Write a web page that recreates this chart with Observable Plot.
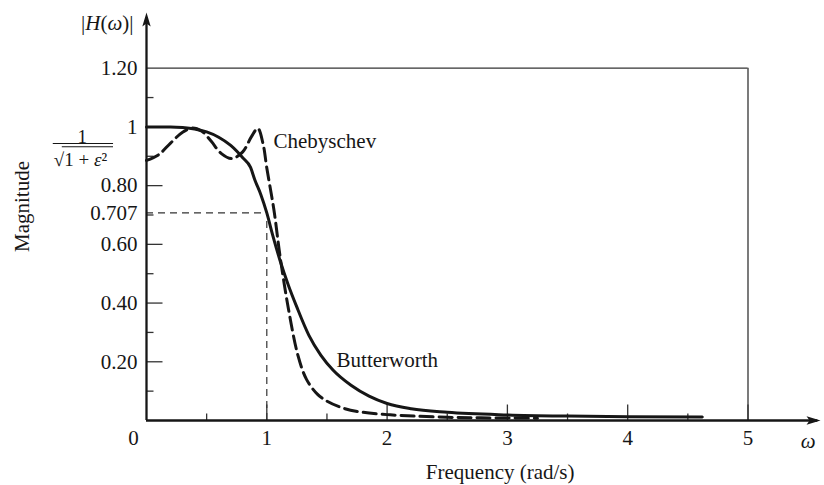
<!DOCTYPE html>
<html>
<head>
<meta charset="utf-8">
<script src="https://cdn.jsdelivr.net/npm/d3@7"></script>
<script src="https://cdn.jsdelivr.net/npm/@observablehq/plot@0.6"></script>
<style>
  html, body { margin: 0; padding: 0; background: #fff; }
  #chart svg { display: block; }
</style>
</head>
<body>
<div id="chart"></div>
<script>
// ---- Data ----
const butterworthW = [0, 0.2, 0.3, 0.4, 0.5, 0.6, 0.7, 0.8, 0.865, 0.9, 0.95, 1.0, 1.05, 1.11, 1.18, 1.25, 1.35, 1.45, 1.55, 1.7, 1.85, 2.0, 2.2, 2.5, 3.0, 3.5, 4.0, 4.62];
const butterworthM = [1.0, 1.0, 0.998, 0.993, 0.983, 0.965, 0.937, 0.895, 0.862, 0.82, 0.77, 0.707, 0.63, 0.545, 0.46, 0.386, 0.29, 0.222, 0.172, 0.12, 0.083, 0.058, 0.04, 0.028, 0.019, 0.015, 0.013, 0.012];

const chebyshevW = [0, 0.1, 0.2, 0.3, 0.38, 0.46, 0.54, 0.62, 0.71, 0.8, 0.87, 0.925, 0.97, 1.0, 1.06, 1.11, 1.18, 1.26, 1.33, 1.42, 1.5, 1.65, 1.8, 2.0, 2.22, 2.5, 2.78, 3.25];
const chebyshevM = [0.886, 0.905, 0.945, 0.982, 0.996, 0.985, 0.95, 0.91, 0.892, 0.915, 0.965, 0.995, 0.94, 0.86, 0.715, 0.56, 0.38, 0.22, 0.14, 0.09, 0.066, 0.04, 0.028, 0.02, 0.015, 0.011, 0.009, 0.008];

const xMajorTicks = [1, 2, 3, 4, 5];
const xMinorTicks = [0.5, 1.5, 2.5, 3.5, 4.5];
const yMajorTicks = [0.2, 0.4, 0.6, 0.8, 1.0];
const yMinorTicks = [0.1, 0.3, 0.5, 0.7, 0.9, 1.1];
const yTickValues = [0.2, 0.4, 0.6, 0.8, 1.0, 1.2, 0.707];
const yTickLabels = ["0.20", "0.40", "0.60", "0.80", "1", "1.20", "0.707"];
const cutoffFreq = 1;
const halfPower = 0.707;
const boxTop = 1.2;
const boxRight = 5;

// ---- Tables built from the arrays ----
const butter = butterworthW.map((w, i) => ({w, m: butterworthM[i]}));
const cheb = chebyshevW.map((w, i) => ({w, m: chebyshevM[i]}));
const yLabels = yTickValues.map((v, i) => ({v, t: yTickLabels[i]}));

// ---- Custom symbols (ticks and arrowheads) ----
const tickRight = len => ({draw(ctx) { ctx.moveTo(0, 0); ctx.lineTo(len, 0); }});
const tickUp = len => ({draw(ctx) { ctx.moveTo(0, 0); ctx.lineTo(0, -len); }});
const arrowUp = {draw(ctx) { ctx.moveTo(0, 0); ctx.lineTo(-4.2, 14); ctx.lineTo(0, 11); ctx.lineTo(4.2, 14); ctx.closePath(); }};
const arrowRight = {draw(ctx) { ctx.moveTo(0, 0); ctx.lineTo(-14, -4.2); ctx.lineTo(-11, 0); ctx.lineTo(-14, 4.2); ctx.closePath(); }};

const ink = "#161616";
const serif = "'Liberation Serif', 'DejaVu Serif', serif";

const chart = Plot.plot({
  width: 824,
  height: 485,
  marginLeft: 0, marginRight: 0, marginTop: 0, marginBottom: 0,
  x: {domain: [0, 5], range: [146, 747.5], axis: null},
  y: {domain: [0, 1.2], range: [420, 67.7], axis: null},
  style: {fontFamily: serif, fontSize: "21px", color: ink, background: "#fff", overflow: "visible"},
  marks: [
    // frame (top and right)
    Plot.ruleY([boxTop], {x1: 0, x2: boxRight, stroke: "#333", strokeWidth: 1.3}),
    Plot.ruleX([boxRight], {y1: 0, y2: boxTop, stroke: "#333", strokeWidth: 1.3}),
    // -3 dB guide lines
    Plot.ruleY([halfPower], {x1: 0, x2: cutoffFreq, stroke: "#333", strokeWidth: 1.2, strokeDasharray: "7,5"}),
    Plot.ruleX([cutoffFreq], {y1: 0, y2: halfPower, stroke: "#333", strokeWidth: 1.2, strokeDasharray: "7,5"}),
    // ticks
    Plot.dot(yMajorTicks, {x: () => 0, y: d => d, symbol: tickRight(16), stroke: "#333", strokeWidth: 1.3, fill: "none"}),
    Plot.dot(yMinorTicks, {x: () => 0, y: d => d, symbol: tickRight(7), stroke: "#333", strokeWidth: 1.3, fill: "none"}),
    Plot.dot(xMajorTicks, {x: d => d, y: () => 0, symbol: tickUp(16), stroke: "#333", strokeWidth: 1.3, fill: "none"}),
    Plot.dot(xMinorTicks, {x: d => d, y: () => 0, symbol: tickUp(7), stroke: "#333", strokeWidth: 1.3, fill: "none"}),
    // curves
    Plot.line(cheb, {x: "w", y: "m", curve: "catmull-rom", stroke: ink, strokeWidth: 3, strokeDasharray: "13,6"}),
    Plot.line(butter, {x: "w", y: "m", curve: "monotone-x", stroke: ink, strokeWidth: 3}),
    // axes with arrows
    Plot.ruleX([0], {y1: 0, y2: 1.37, stroke: ink, strokeWidth: 2.3}),
    Plot.ruleY([0], {x1: 0, x2: 5.58, stroke: ink, strokeWidth: 2.6}),
    Plot.dot([0], {x: () => 0, y: () => 1.39, symbol: arrowUp, fill: ink, stroke: "none"}),
    Plot.dot([0], {x: () => 5.603, y: () => 0, symbol: arrowRight, fill: ink, stroke: "none"}),
    // tick labels
    Plot.text(xMajorTicks, {x: d => d, y: () => 0, dy: 18, text: d => String(d), fill: ink, fontSize: 21}),
    Plot.text(["0"], {x: () => 0, y: () => 0, dx: -13, dy: 18, text: d => d, fill: ink, fontSize: 21}),
    Plot.text(yLabels, {x: () => 0, y: "v", dx: -9, text: "t", textAnchor: "end", fill: ink, fontSize: 21}),
    // fraction 1/sqrt(1+eps^2)
    Plot.text(["1"], {x: () => -0.535, y: () => 0.9665, text: d => d, fill: ink, fontSize: 19}),
    Plot.ruleY([0.9435], {x1: -0.775, x2: -0.274, stroke: ink, strokeWidth: 1.2}),
    Plot.ruleY([0.9325], {x1: -0.70, x2: -0.274, stroke: ink, strokeWidth: 1.2}),
    Plot.text(["√1 + ε²"], {x: () => -0.549, y: () => 0.888, text: d => d, fill: ink, fontSize: 19}),
    // curve labels
    Plot.text(["Chebyschev"], {x: () => 1.056, y: () => 0.95, text: d => d, textAnchor: "start", fill: ink, fontSize: 21}),
    Plot.text(["Butterworth"], {x: () => 1.58, y: () => 0.204, text: d => d, textAnchor: "start", fill: ink, fontSize: 21}),
    // axis titles
    Plot.text(["|H(ω)|"], {x: () => -0.108, y: () => 1.352, text: d => d, textAnchor: "end", fill: ink, fontSize: 21}),
    Plot.text(["Magnitude"], {x: () => -1.03, y: () => 0.729, text: d => d, rotate: -90, fill: ink, fontSize: 21}),
    Plot.text(["Frequency (rad/s)"], {x: () => 2.94, y: () => -0.177, text: d => d, fill: ink, fontSize: 21}),
    Plot.text(["ω"], {x: () => 5.50, y: () => -0.072, text: d => d, fontStyle: "italic", fill: ink, fontSize: 21})
  ]
});

// italic H and omega in |H(ω)|, italic epsilon in the fraction
d3.select(chart).selectAll("text").each(function () {
  const t = this.textContent;
  if (t === "|H(ω)|") {
    const s = d3.select(this);
    s.text(null);
    s.append("tspan").text("|");
    s.append("tspan").attr("font-style", "italic").text("H");
    s.append("tspan").text("(");
    s.append("tspan").attr("font-style", "italic").text("ω");
    s.append("tspan").text(")|");
  } else if (t === "√1 + ε²") {
    const s = d3.select(this);
    s.text(null);
    s.append("tspan").text("√1 + ");
    s.append("tspan").attr("font-style", "italic").text("ε");
    s.append("tspan").text("²");
  }
});

document.getElementById("chart").appendChild(chart);
</script>
</body>
</html>
